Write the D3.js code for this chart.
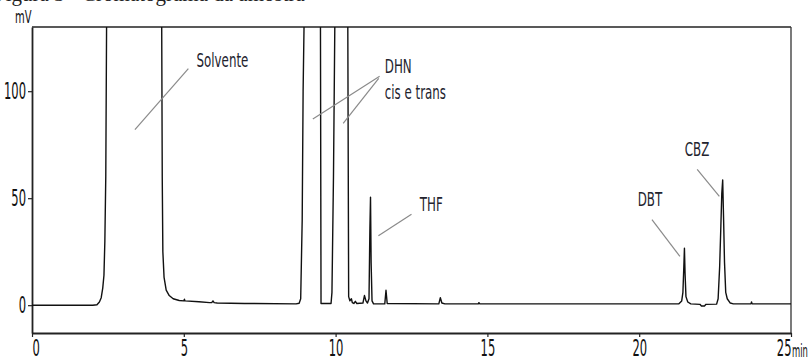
<!DOCTYPE html>
<html>
<head>
<meta charset="utf-8">
<script src="https://cdn.jsdelivr.net/npm/d3@7"></script>
<style>
  body { margin: 0; background: #fff; }
  .narrow { font-family: "Liberation Sans Narrow", "DejaVu Sans Condensed", sans-serif; }
  .tall { transform-box: fill-box; transform-origin: 50% 50%; }
</style>
</head>
<body>
<div id="chart"></div>
<script>
var svgWidth = 812;
var svgHeight = 361;

var margin = {
  top: 27,
  right: 21,
  bottom: 28,
  left: 32
};

var width = svgWidth - margin.left - margin.right;
var height = svgHeight - margin.top - margin.bottom;

// retention time (min) and detector signal (mV)
// values above 130 are off scale and get clipped at the frame
var times = [0, 2.0, 2.14, 2.22, 2.28, 2.33, 2.37, 2.40, 2.43, 2.46,
  4.27, 4.29, 4.31, 4.35, 4.42, 4.52, 4.65, 4.85, 5.0, 5.02, 5.04, 5.5, 5.85, 5.92, 5.96, 6.0, 6.1, 7.0,
  8.7, 8.8, 8.85, 8.9, 8.93, 8.97, 9.50, 9.52, 9.85, 9.88, 9.93, 9.98, 10.40, 10.43,
  10.47, 10.52, 10.55, 10.6, 10.65, 10.7, 10.9, 10.95, 11.0, 11.05, 11.10, 11.13, 11.15, 11.17, 11.2, 11.25,
  11.62, 11.66, 11.70, 13.4, 13.45, 13.5, 13.6, 14.7, 14.72, 14.75,
  21.3, 21.40, 21.44, 21.47, 21.49, 21.51, 21.54, 21.6, 21.7,
  22.0, 22.05, 22.15, 22.2, 22.55, 22.6, 22.65, 22.69, 22.72, 22.75, 22.78, 22.81, 22.85, 22.9, 23.0, 23.1,
  23.68, 23.70, 23.72, 25];
var signal = [0, 0, 0.2, 1.5, 3.5, 8, 14, 30, 60, 140,
  140, 60, 25, 13, 7, 4.5, 3, 2.2, 2, 2.8, 2, 1.6, 1.2, 1.2, 2, 1.2, 1, 0.8,
  0.6, 0.9, 3, 40, 100, 140, 140, 0.8, 0.8, 6, 60, 140, 140, 4,
  2, 3, 1.2, 0.8, 1.8, 0.8, 1, 4.5, 2, 1, 3, 36, 50.5, 20, 2, 0.6,
  0.6, 7, 0.8, 0.6, 3.5, 1, 0.6, 0.6, 1.2, 0.6,
  0.6, 2, 6, 18, 26.6, 15, 4, 1.5, 0.6,
  0.4, -0.4, -0.4, 0.4, 0.5, 3, 18, 37, 52, 58.5, 40, 20, 6, 3, 1, 0.6,
  0.6, 1.5, 0.6, 0.6];

var xTicks = [0, 5, 10, 15, 20, 25];
var yTicks = [0, 50, 100];

// peak labels: text, label position (min, mV), leader end (min, mV)
var peakNames = ["Solvente", "DHN", "DHN", "THF", "DBT", "CBZ"];
var labelAt = [[5.42, 112], [11.62, 109], [11.62, 109], [12.78, 44.7], [19.95, 47], [21.5, 70]];
var leaderFrom = [[5.15, 110.5], [11.45, 107], [11.42, 106], [12.5, 42.5], [20.42, 40], [21.91, 63.5]];
var leaderTo = [[3.39, 82], [9.25, 87], [10.25, 85], [11.41, 32.5], [21.34, 22.8], [22.64, 50.8]];

var svg = d3
  .select("#chart")
  .append("svg")
  .attr("width", svgWidth)
  .attr("height", svgHeight);

// caption above the chart, mostly cut off by the crop
svg.append("text")
  .attr("x", -6)
  .attr("y", 1)
  .attr("font-family", "Liberation Serif, serif")
  .attr("font-size", 21)
  .attr("fill", "#222")
  .text("Figura 3 - Cromatograma da amostra");

var chartGroup = svg.append("g")
  .attr("transform", `translate(${margin.left}, ${margin.top})`);

var xScale = d3.scaleLinear().domain([0, 25]).range([0, width]);
var yScale = d3.scaleLinear().domain([-13, 130]).range([height, 0]);

svg.append("clipPath")
  .attr("id", "plotClip")
  .append("rect")
  .attr("width", width)
  .attr("height", height);

// frame: top and right sides
chartGroup.append("line")
  .attr("x1", 0).attr("x2", xScale(25))
  .attr("y1", yScale(130)).attr("y2", yScale(130))
  .attr("stroke", "#222").attr("stroke-width", 1.5);
chartGroup.append("line")
  .attr("x1", xScale(25)).attr("x2", xScale(25))
  .attr("y1", yScale(130)).attr("y2", height)
  .attr("stroke", "#333").attr("stroke-width", 1.3);

// axes
var bottomAxis = d3.axisBottom(xScale)
  .tickValues(xTicks)
  .tickSize(4)
  .tickSizeOuter(0)
  .tickPadding(5);
var leftAxis = d3.axisLeft(yScale)
  .tickValues(yTicks)
  .tickSize(4)
  .tickSizeOuter(0)
  .tickPadding(2);

var xAxis = chartGroup.append("g")
  .attr("transform", `translate(0, ${height})`)
  .call(bottomAxis);
var yAxis = chartGroup.append("g")
  .call(leftAxis);

[xAxis, yAxis].forEach(function(ax) {
  ax.select(".domain").attr("stroke", "#222").attr("stroke-width", 1.8);
  ax.selectAll(".tick line").attr("stroke", "#222").attr("stroke-width", 1.2);
  ax.selectAll(".tick text")
    .classed("narrow", true)
    .classed("tall", true)
    .attr("font-size", 16)
    .attr("fill", "#111")
    .style("transform", "scale(0.8, 1.45)");
});
yAxis.selectAll(".tick text").style("transform-origin", "100% 50%");

// first label sits right of the origin, last one left of the end
xAxis.selectAll(".tick text")
  .attr("text-anchor", function(d) { return d === 0 ? "start" : (d === 25 ? "end" : "middle"); })
  .style("transform-origin", function(d) { return d === 0 ? "0% 50%" : (d === 25 ? "100% 50%" : "50% 50%"); });

// units
svg.append("text")
  .classed("narrow", true).classed("tall", true)
  .attr("x", 15).attr("y", 21)
  .attr("font-size", 13)
  .attr("fill", "#111")
  .style("transform-origin", "0% 50%")
  .style("transform", "scale(0.85, 1.4)")
  .text("mV");
svg.append("text")
  .classed("narrow", true).classed("tall", true)
  .attr("x", 792).attr("y", 355)
  .attr("font-size", 13)
  .attr("fill", "#111")
  .style("transform-origin", "0% 50%")
  .style("transform", "scale(0.72, 1.4)")
  .text("min");

// the trace
var line = d3.line()
  .x(function(d, i) { return xScale(times[i]); })
  .y(function(d) { return yScale(d); });

chartGroup.append("path")
  .datum(signal)
  .attr("clip-path", "url(#plotClip)")
  .attr("fill", "none")
  .attr("stroke", "#111")
  .attr("stroke-width", 1.4)
  .attr("stroke-linejoin", "round")
  .attr("d", line);

// leader lines
chartGroup.selectAll(".leader")
  .data(peakNames)
  .enter()
  .append("line")
  .attr("x1", function(d, i) { return xScale(leaderFrom[i][0]); })
  .attr("y1", function(d, i) { return yScale(leaderFrom[i][1]); })
  .attr("x2", function(d, i) { return xScale(leaderTo[i][0]); })
  .attr("y2", function(d, i) { return yScale(leaderTo[i][1]); })
  .attr("stroke", "#8a8a8a")
  .attr("stroke-width", 1.2);

// peak names (DHN appears twice for its two leaders, draw it once)
chartGroup.selectAll(".peakName")
  .data(peakNames.filter(function(d, i) { return i !== 2; }))
  .enter()
  .append("text")
  .classed("narrow", true).classed("tall", true)
  .attr("x", function(d) { return xScale(labelAt[peakNames.indexOf(d)][0]); })
  .attr("y", function(d) { return yScale(labelAt[peakNames.indexOf(d)][1]); })
  .attr("font-size", 15.5)
  .attr("fill", "#23232e")
  .style("transform-origin", "0% 50%")
  .style("transform", "scale(0.85, 1.2)")
  .text(function(d) { return d; });

chartGroup.append("text")
  .classed("narrow", true).classed("tall", true)
  .attr("x", xScale(labelAt[1][0]))
  .attr("y", yScale(labelAt[1][1]) + 26.5)
  .attr("font-size", 15.5)
  .attr("fill", "#23232e")
  .style("transform-origin", "0% 50%")
  .style("transform", "scale(0.85, 1.2)")
  .text("cis e trans");
</script>
</body>
</html>
